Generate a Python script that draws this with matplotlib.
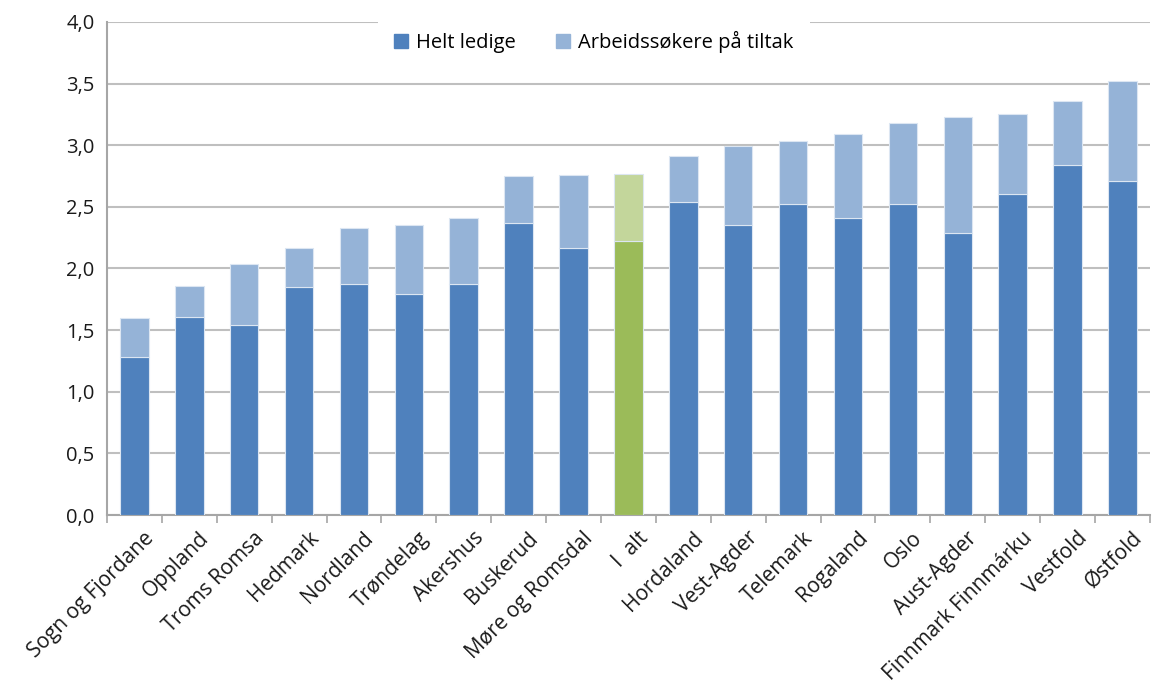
import matplotlib
matplotlib.use('Agg')
import matplotlib.pyplot as plt
import matplotlib.transforms as mtransforms
import numpy as np
from matplotlib.patches import Patch
from matplotlib.ticker import FuncFormatter, MultipleLocator

plt.rcParams['font.family'] = ['Open Sans', 'DejaVu Sans']

regions = ['Sogn og Fjordane', 'Oppland', 'Troms Romsa', 'Hedmark', 'Nordland',
           'Trøndelag', 'Akershus', 'Buskerud', 'Møre og Romsdal', 'I  alt',
           'Hordaland', 'Vest-Agder', 'Telemark', 'Rogaland', 'Oslo',
           'Aust-Agder', 'Finnmark Finnmárku', 'Vestfold', 'Østfold']
helt_ledige = [1.28, 1.61, 1.54, 1.85, 1.87, 1.79, 1.87, 2.37, 2.17, 2.22,
               2.54, 2.35, 2.52, 2.41, 2.52, 2.29, 2.60, 2.84, 2.71]
totalt = [1.60, 1.86, 2.04, 2.17, 2.33, 2.35, 2.41, 2.75, 2.76, 2.77,
          2.91, 2.99, 3.03, 3.09, 3.18, 3.23, 3.25, 3.36, 3.52]
tiltak = [t - h for t, h in zip(totalt, helt_ledige)]

DARK = '#4F81BD'
LIGHT = '#95B3D7'
DARK_G = '#9BBB59'
LIGHT_G = '#C3D69B'

dark_cols = [DARK_G if r.startswith('I ') else DARK for r in regions]
light_cols = [LIGHT_G if r.startswith('I ') else LIGHT for r in regions]

fig = plt.figure(figsize=(11.55, 6.84), dpi=100)
ax = fig.add_axes([0.0926, 0.247, 0.903, 0.721])

x = np.arange(len(regions))
ax.bar(x, helt_ledige, width=0.52, color=dark_cols, edgecolor='#DCE6F2', linewidth=0.8, zorder=3)
ax.bar(x, tiltak, bottom=helt_ledige, width=0.52, color=light_cols, edgecolor='#DCE6F2',
       linewidth=0.8, zorder=3)

ax.set_xlim(-0.5, len(regions) - 0.5)
ax.set_ylim(0, 4.0)
ax.yaxis.set_major_locator(MultipleLocator(0.5))
ax.yaxis.set_major_formatter(FuncFormatter(lambda v, p: f'{v:.1f}'.replace('.', ',')))
ax.grid(axis='y', color='#BFBFBF', linewidth=1.5, zorder=0)
ax.set_axisbelow(True)

for s in ['top', 'right']:
    ax.spines[s].set_visible(False)
ax.spines['left'].set_color('#A6A6A6')
ax.spines['bottom'].set_color('#A6A6A6')
ax.spines['left'].set_linewidth(1.5)
ax.spines['bottom'].set_linewidth(1.5)

ax.tick_params(axis='y', length=0, labelsize=14.5, pad=9, colors='#1A1A1A')
ax.set_xticks(np.arange(-0.5, len(regions), 1.0))
ax.set_xticklabels([])
ax.tick_params(axis='x', which='major', length=6, color='#A6A6A6', width=1.2)
ax.set_xticks(x, minor=True)
ax.set_xticklabels(regions, minor=True, rotation=45, ha='right', rotation_mode='anchor',
                   fontsize=15, color='#1A1A1A')
ax.tick_params(axis='x', which='minor', length=0, pad=9)

# nudge labels so their upper end sits just right of the bar centre
shift = mtransforms.ScaledTranslation(0.09, 0, fig.dpi_scale_trans)
for lab in ax.get_xticklabels(minor=True):
    lab.set_transform(lab.get_transform() + shift)

handles = [Patch(color=DARK, label='Helt ledige'), Patch(color=LIGHT, label='Arbeidssøkere på tiltak')]
leg = ax.legend(handles=handles, loc='upper center', bbox_to_anchor=(0.467, 1.035), ncol=2,
                frameon=True, fontsize=14.5, handlelength=0.7, handleheight=0.7,
                handletextpad=0.4, columnspacing=2.0, borderpad=0.8, fancybox=False)
leg.get_frame().set_facecolor('white')
leg.get_frame().set_edgecolor('none')
leg.get_frame().set_alpha(1)
leg.set_zorder(5)

fig.savefig('out.png', dpi=100)
